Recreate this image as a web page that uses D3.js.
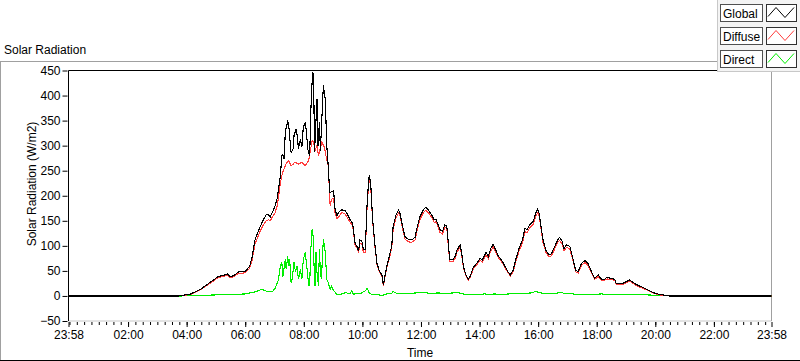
<!DOCTYPE html>
<html>
<head>
<meta charset="utf-8">
<script src="https://cdn.jsdelivr.net/npm/d3@7"></script>
<style>
  body { margin: 0; background: #fff; }
  svg text { font-family: "Liberation Sans", Arial, sans-serif; font-size: 12px; fill: #000; }
</style>
</head>
<body>
<div id="chart"></div>
<script>
// values (W/m2), time of day
var globalSeries = [["00:00",0],["03:45",0],["04:08",4],["04:28",13],["04:48",27],["05:05",39],["05:16",41],["05:23",44],["05:29",39],["05:36",40],["05:46",48],["06:00",49],["06:09",59],["06:14",77],["06:20",112],["06:31",139],["06:37",152],["06:43",162],["06:48",162],["06:51",157],["07:01",179],["07:05",193],["07:08",212],["07:12",240],["07:15",280],["07:17",283],["07:20",273],["07:22",327],["07:25",340],["07:27",348],["07:29",343],["07:32",307],["07:34",287],["07:38",293],["07:40",320],["07:44",333],["07:47",317],["07:49",293],["07:53",313],["07:56",297],["07:59",337],["08:03",347],["08:06",320],["08:08",293],["08:12",280],["08:15",387],["08:18",447],["08:20",442],["08:22",287],["08:27",393],["08:29",300],["08:32",347],["08:34",290],["08:40",420],["08:44",393],["08:47",300],["08:50",260],["08:53",207],["08:55",207],["09:01",210],["09:04",173],["09:08",160],["09:11",167],["09:18",172],["09:25",170],["09:31",160],["09:35",152],["09:40",145],["09:45",105],["09:49",99],["09:52",89],["09:55",112],["09:59",109],["10:02",92],["10:06",92],["10:09",172],["10:12",219],["10:14",241],["10:17",225],["10:21",152],["10:26",99],["10:30",65],["10:35",49],["10:40",42],["10:43",22],["10:46",39],["10:50",59],["10:55",79],["11:00",99],["11:03",139],["11:09",162],["11:14",172],["11:17",165],["11:21",145],["11:27",119],["11:34",113],["11:41",112],["11:48",117],["11:51",132],["11:58",159],["12:05",172],["12:10",177],["12:15",172],["12:22",162],["12:27",152],["12:31",153],["12:34",145],["12:39",132],["12:44",129],["12:49",142],["12:53",139],["12:56",105],["12:59",72],["13:05",72],["13:10",79],["13:14",92],["13:20",102],["13:23",89],["13:27",59],["13:32",42],["13:37",33],["13:42",42],["13:47",57],["13:54",65],["14:01",75],["14:06",72],["14:13",87],["14:18",79],["14:23",95],["14:28",103],["14:33",92],["14:38",80],["14:45",72],["14:52",59],["14:59",47],["15:03",42],["15:09",52],["15:14",72],["15:21",95],["15:28",112],["15:33",135],["15:37",132],["15:43",142],["15:50",149],["15:55",165],["15:59",173],["16:02",165],["16:05",145],["16:10",112],["16:16",91],["16:22",82],["16:27",84],["16:34",99],["16:40",112],["16:44",117],["16:49",109],["16:53",95],["16:58",102],["17:05",99],["17:10",79],["17:17",51],["17:22",49],["17:29",65],["17:36",71],["17:42",65],["17:49",49],["17:56",35],["18:03",42],["18:10",33],["18:16",33],["18:21",37],["18:30",35],["18:37",33],["18:40",25],["18:51",24],["18:57",27],["19:08",32],["19:14",27],["19:25",21],["19:35",17],["19:45",12],["19:55",7],["20:05",4],["20:16",2],["20:29",0],["23:58",0]];

var diffuseSeries = [["00:00",0],["03:45",0],["04:08",3],["04:28",12],["04:48",25],["05:05",37],["05:16",39],["05:23",42],["05:29",37],["05:36",38],["05:46",45],["06:00",46],["06:09",55],["06:14",71],["06:20",104],["06:31",130],["06:37",142],["06:43",150],["06:48",152],["06:51",150],["07:01",166],["07:05",178],["07:08",196],["07:12",225],["07:16",245],["07:22",260],["07:25",266],["07:29",270],["07:34",260],["07:38",263],["07:42",267],["07:49",263],["07:56",267],["08:03",260],["08:10",270],["08:13",287],["08:17",310],["08:20",307],["08:23",290],["08:27",300],["08:30",280],["08:37",307],["08:42",297],["08:46",277],["08:50",260],["08:54",180],["08:57",193],["09:01",195],["09:04",165],["09:08",155],["09:11",157],["09:18",167],["09:25",163],["09:31",153],["09:35",147],["09:40",140],["09:45",101],["09:49",96],["09:52",86],["09:55",106],["09:59",103],["10:02",86],["10:06",86],["10:09",165],["10:12",213],["10:14",235],["10:17",220],["10:21",148],["10:26",96],["10:30",62],["10:35",47],["10:40",40],["10:43",20],["10:46",37],["10:50",56],["10:55",75],["11:00",95],["11:03",133],["11:09",156],["11:14",166],["11:17",160],["11:21",140],["11:27",114],["11:34",108],["11:41",107],["11:48",112],["11:51",127],["11:58",153],["12:05",166],["12:10",171],["12:15",166],["12:22",157],["12:27",147],["12:31",148],["12:34",140],["12:39",127],["12:44",124],["12:49",137],["12:53",134],["12:56",101],["12:59",68],["13:05",68],["13:10",75],["13:14",88],["13:20",97],["13:23",85],["13:27",56],["13:32",40],["13:37",31],["13:42",40],["13:47",54],["13:54",62],["14:01",71],["14:06",68],["14:13",82],["14:18",75],["14:23",90],["14:28",98],["14:33",88],["14:38",77],["14:45",69],["14:52",56],["14:59",45],["15:03",40],["15:09",49],["15:14",68],["15:21",90],["15:28",106],["15:33",128],["15:37",126],["15:43",136],["15:50",143],["15:55",158],["15:59",166],["16:02",159],["16:05",140],["16:10",107],["16:16",87],["16:22",78],["16:27",80],["16:34",94],["16:40",107],["16:44",111],["16:49",104],["16:53",90],["16:58",97],["17:05",94],["17:10",75],["17:17",48],["17:22",46],["17:29",61],["17:36",67],["17:42",61],["17:49",46],["17:56",33],["18:03",39],["18:10",31],["18:16",31],["18:21",34],["18:30",33],["18:37",31],["18:40",23],["18:51",22],["18:57",25],["19:08",30],["19:14",25],["19:25",19],["19:35",15],["19:45",11],["19:55",6],["20:05",3],["20:16",1],["20:29",0],["23:58",0]];

var directSeries = [["00:00",0],["03:50",0],["04:10",1],["05:00",2],["06:00",4],["06:20",8],["06:31",12],["06:35",13],["06:45",9],["06:55",8],["07:01",15],["07:08",32],["07:12",60],["07:15",67],["07:17",37],["07:22",73],["07:24",53],["07:27",80],["07:29",60],["07:31",73],["07:34",27],["07:36",33],["07:40",67],["07:43",47],["07:46",60],["07:49",33],["07:53",53],["07:56",33],["07:59",73],["08:03",87],["08:06",60],["08:10",20],["08:12",20],["08:14",87],["08:17",133],["08:19",120],["08:21",60],["08:23",20],["08:25",87],["08:27",47],["08:30",20],["08:32",93],["08:34",47],["08:36",33],["08:40",113],["08:44",87],["08:47",33],["08:50",27],["08:54",13],["08:57",20],["09:00",12],["09:08",3],["09:18",4],["09:26",7],["09:32",4],["09:35",5],["09:38",10],["09:42",3],["09:49",6],["09:55",4],["10:02",8],["10:06",10],["10:10",15],["10:14",6],["10:20",2],["10:30",3],["10:40",1],["10:50",4],["11:00",5],["11:03",9],["11:10",5],["11:20",4],["11:35",5],["11:50",6],["12:05",7],["12:20",5],["12:35",6],["12:50",5],["13:05",6],["13:15",7],["13:30",3],["13:40",2],["13:55",3],["14:10",4],["14:20",3],["14:30",4],["14:45",3],["15:00",4],["15:15",4],["15:30",5],["15:45",6],["15:55",9],["16:05",6],["16:20",5],["16:35",5],["16:45",7],["16:55",5],["17:10",4],["17:30",3],["17:50",3],["18:10",4],["18:20",3],["19:00",3],["19:45",2],["20:10",1],["20:30",0],["23:58",0]];

var seriesNames = ["Global", "Diffuse", "Direct"];
var seriesColors = ["#000000", "#ff3c3c", "#00ee00"];
var yTicks = [-50, 0, 50, 100, 150, 200, 250, 300, 350, 400, 450];
var xTickLabels = ["23:58", "02:00", "04:00", "06:00", "08:00", "10:00", "12:00", "14:00", "16:00", "18:00", "20:00", "22:00", "23:58"];

var width = 800, height = 361;
var plot = {left: 68.5, right: 771.5, top: 70.5, bottom: 321};

var parseTime = d3.timeParse("%H:%M");
var formatTime = d3.timeFormat("%H:%M");
var dayEnd = parseTime("23:58");
var dayStart = d3.timeMinute.offset(dayEnd, -24 * 60);

var svg = d3.select("#chart").append("svg")
    .attr("width", width)
    .attr("height", height);

// outer frame of the graph
svg.append("line").attr("x1", 0.5).attr("x2", 0.5).attr("y1", 61.5).attr("y2", 360)
    .attr("stroke", "#a0a0a0");
svg.append("line").attr("x1", 0).attr("x2", 718).attr("y1", 61.5).attr("y2", 61.5)
    .attr("stroke", "#a0a0a0");
svg.append("line").attr("x1", 0).attr("x2", 800).attr("y1", 360.5).attr("y2", 360.5)
    .attr("stroke", "#000");

svg.append("text").attr("x", 4).attr("y", 54).text("Solar Radiation");

var x = d3.scaleTime()
    .domain([dayStart, dayEnd])
    .range([plot.left, plot.right]);

var y = d3.scaleLinear()
    .domain([-50, 450])
    .range([plot.bottom, plot.top]);

// plot box
svg.append("line").attr("x1", plot.left).attr("x2", plot.right).attr("y1", plot.bottom).attr("y2", plot.bottom)
    .attr("stroke", "#c8c8c8");
svg.append("line").attr("x1", plot.right).attr("x2", plot.right).attr("y1", plot.top).attr("y2", plot.bottom)
    .attr("stroke", "#a0a0a0");

svg.append("clipPath").attr("id", "clip")
    .append("rect")
    .attr("x", plot.left).attr("y", plot.top - 1)
    .attr("width", plot.right - plot.left).attr("height", plot.bottom - plot.top + 1);

var line = d3.line()
    .x(function(d){ return x(d[0]); })
    .y(function(d){ return y(d[1]); });

function toPoints(series){
    return series.map(function(d){
        var t = parseTime(d[0]);
        return [t, d[1]];
    });
}

var allSeries = [globalSeries, diffuseSeries, directSeries];
var drawOrder = [2, 1, 0];
var lines = svg.append("g").attr("clip-path", "url(#clip)");
drawOrder.forEach(function(i){
    lines.append("path")
        .datum(toPoints(allSeries[i]))
        .attr("d", line)
        .attr("fill", "none")
        .attr("stroke", seriesColors[i])
        .attr("stroke-width", 1.1)
        .attr("shape-rendering", "crispEdges");
});

// top and left dark borders
svg.append("line").attr("x1", plot.left).attr("x2", plot.right).attr("y1", plot.top).attr("y2", plot.top)
    .attr("stroke", "#000");
svg.append("line").attr("x1", plot.left).attr("x2", plot.left).attr("y1", plot.top).attr("y2", plot.bottom)
    .attr("stroke", "#000");

// y axis
var yAxis = svg.append("g")
    .attr("transform", "translate(" + (plot.left - 1) + ",0)")
    .call(d3.axisLeft(y).tickValues(yTicks).tickSize(5).tickPadding(2));
yAxis.select(".domain").remove();
yAxis.selectAll("text").style("font-size", "12px").attr("fill", "#000");

svg.append("text")
    .attr("transform", "translate(36,184) rotate(-90)")
    .attr("text-anchor", "middle")
    .text("Solar Radiation (W/m2)");

// x axis: majors every 2h, minors every 15 min
var majorTicks = xTickLabels.map(function(s, i){
    if (i === 0) return dayStart;
    return parseTime(s);
});
var minorTicks = d3.timeMinute.every(15).range(parseTime("00:00"), dayEnd);

var xMinor = svg.append("g")
    .attr("transform", "translate(0," + (plot.bottom + 1) + ")")
    .call(d3.axisBottom(x).tickValues(minorTicks).tickSize(3).tickFormat(""));
xMinor.select(".domain").remove();

var xAxis = svg.append("g")
    .attr("transform", "translate(0," + (plot.bottom + 1) + ")")
    .call(d3.axisBottom(x).tickValues(majorTicks).tickSize(5).tickPadding(3)
        .tickFormat(function(d, i){ return xTickLabels[i]; }));
xAxis.select(".domain").remove();
xAxis.selectAll("text").style("font-size", "12px").attr("fill", "#000");

svg.append("text")
    .attr("x", (plot.left + plot.right) / 2)
    .attr("y", 357)
    .attr("text-anchor", "middle")
    .text("Time");

// legend panel
var legend = svg.append("g");
legend.append("rect")
    .attr("x", 717.5).attr("y", -1).attr("width", 84).attr("height", 72.5)
    .attr("fill", "#f4f4f4").attr("stroke", "#c8c8c8");

seriesNames.forEach(function(name, i){
    var top = 4.5 + i * 23;
    legend.append("rect")
        .attr("x", 720.5).attr("y", top).attr("width", 42).attr("height", 17)
        .attr("fill", "#fff").attr("stroke", "#505050");
    legend.append("text")
        .attr("x", 723).attr("y", top + 13)
        .text(name);
    legend.append("rect")
        .attr("x", 766.5).attr("y", top).attr("width", 30).attr("height", 17)
        .attr("fill", "#fff").attr("stroke", "#303030");
    var sx = 768, sy = top;
    legend.append("polyline")
        .attr("points", [[sx, sy + 12], [sx + 8, sy + 3], [sx + 17, sy + 13], [sx + 26, sy + 3]].join(" "))
        .attr("fill", "none")
        .attr("stroke", seriesColors[i])
        .attr("stroke-width", 1);
});
</script>
</body>
</html>
